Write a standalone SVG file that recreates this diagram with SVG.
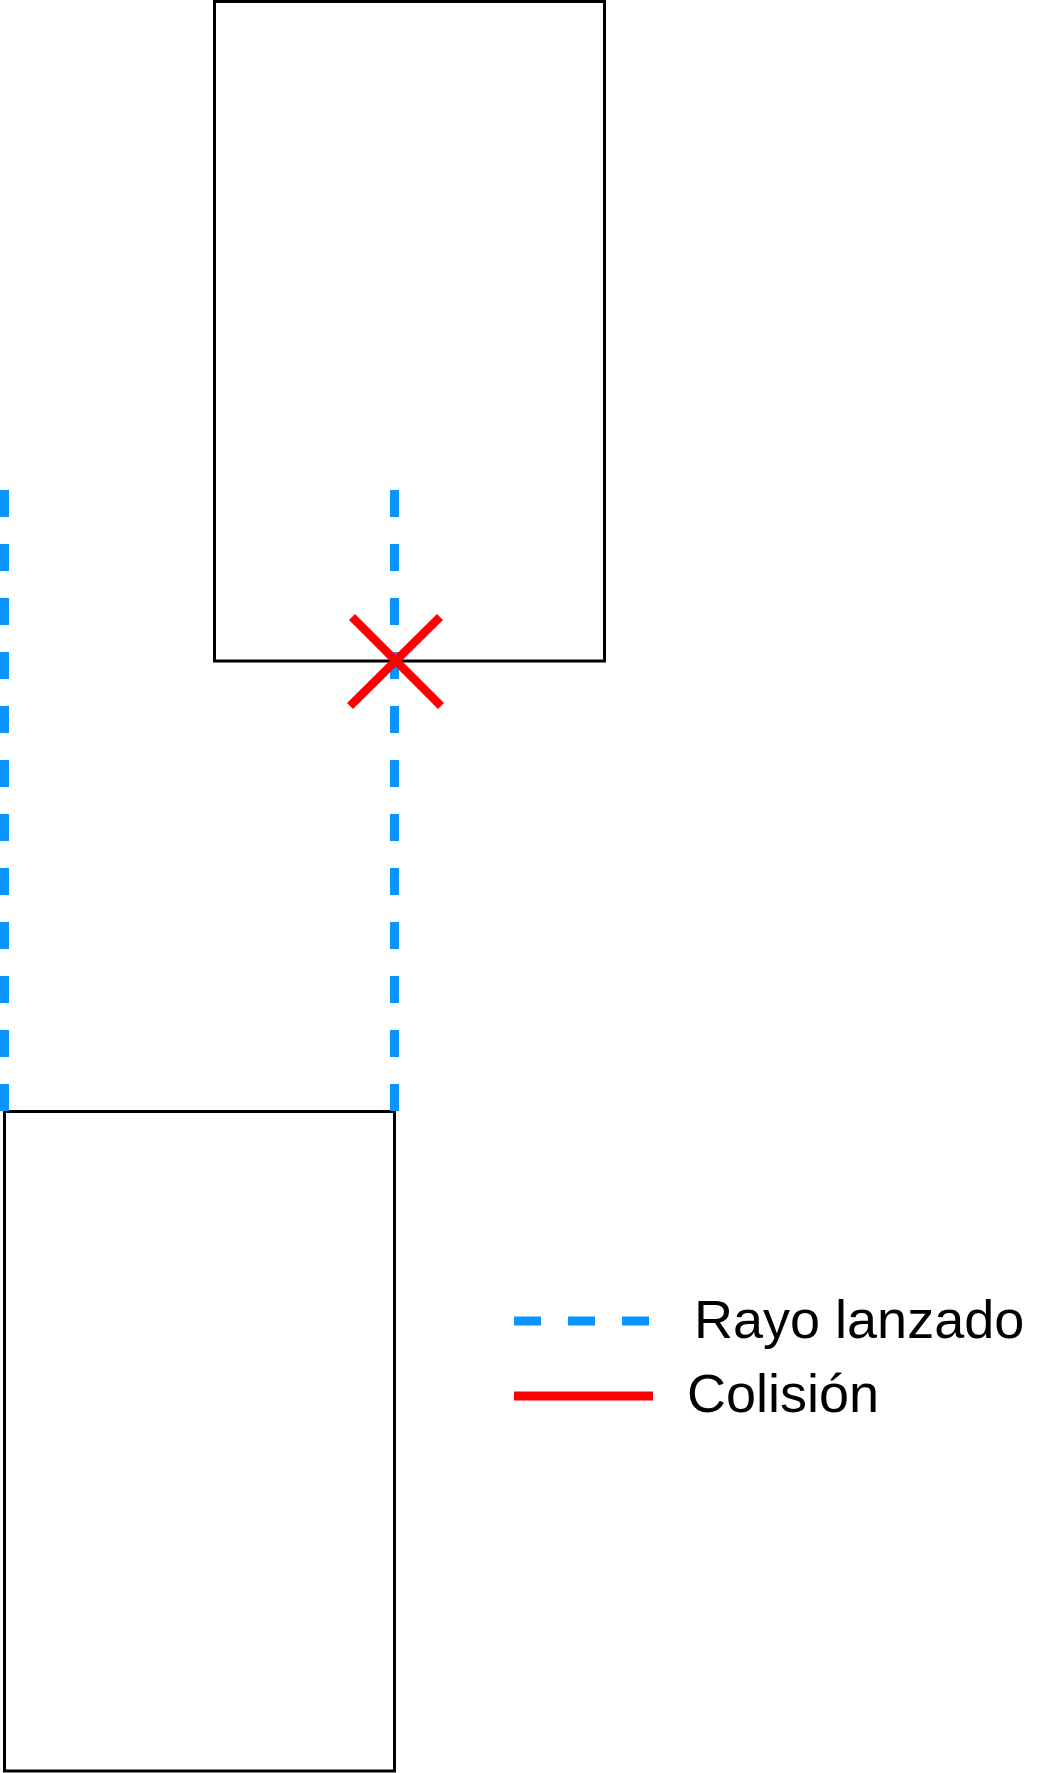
<svg xmlns="http://www.w3.org/2000/svg" width="1056" height="1773" viewBox="0 0 1056 1773">
  <style>
    .box { fill: #ffffff; stroke: #000000; stroke-width: 3; }
    .ray { stroke: #0A94FF; stroke-width: 9; fill: none; stroke-dasharray: 27 27; }
    .hit { stroke: #FF0000; stroke-width: 8.5; fill: none; }
    .lbl { font-family: "Liberation Sans", Arial, sans-serif; font-size: 54px; fill: #000000; }
  </style>
  <rect width="1056" height="1773" fill="#ffffff"/>
  <g id="box-top">
    <rect class="box" x="214.5" y="1.5" width="390" height="659.5"/>
  </g>
  <g id="box-bottom">
    <rect class="box" x="4.5" y="1111.5" width="390" height="659.5"/>
  </g>
  <g id="connectors">
    <line class="ray" x1="4.5" y1="490" x2="4.5" y2="1111"/>
    <line class="ray" x1="394.5" y1="490" x2="394.5" y2="1111"/>
  </g>
  <g id="collision-mark">
    <line class="hit" x1="352" y1="617" x2="441" y2="706"/>
    <line class="hit" x1="440" y1="617" x2="350" y2="706"/>
  </g>
  <g id="legend">
    <line class="ray" x1="514" y1="1321" x2="650" y2="1321"/>
    <text class="lbl" x="694" y="1338">Rayo lanzado</text>
    <line class="hit" x1="514" y1="1396" x2="653" y2="1396" style="stroke-width: 9"/>
    <text class="lbl" x="687" y="1412">Colisión</text>
  </g>
</svg>
